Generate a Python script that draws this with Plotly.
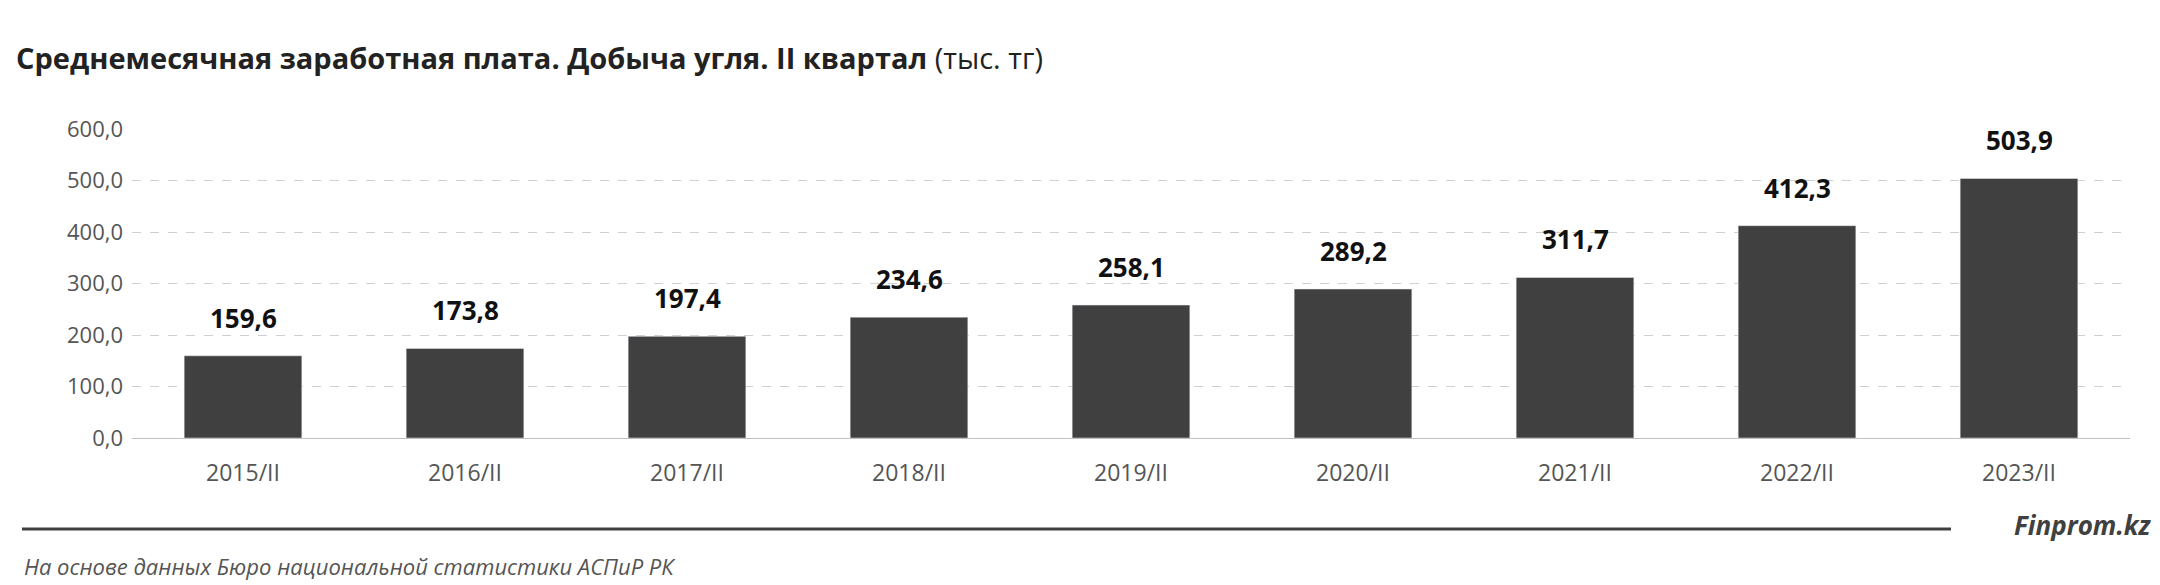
import plotly.graph_objects as go

categories = ["2015/II","2016/II","2017/II","2018/II","2019/II","2020/II","2021/II","2022/II","2023/II"]
values = [159.6,173.8,197.4,234.6,258.1,289.2,311.7,412.3,503.9]
tick_vals = [0,100,200,300,400,500,600]
tick_text = [f"{v:.1f}".replace(".", ",") for v in tick_vals]
labels = [f"{v:.1f}".replace(".", ",") for v in values]

W, H = 2160, 585
font = "Open Sans"
fig = go.Figure(go.Bar(
    x=categories, y=values, marker_color="#404040", width=0.53,
))
ann = [dict(x=c, y=v, text=f"<b>{t}</b>", showarrow=False, yanchor="bottom", yshift=18,
            font=dict(family=font, size=26, color="#111111"))
       for c, v, t in zip(categories, values, labels)]
ann += [
    dict(xref="paper", yref="paper", x=-118/1998, y=1 + (121-50)/309, xanchor="left", yanchor="middle",
         showarrow=False, align="left",
         text="<b>Среднемесячная заработная плата. Добыча угля. II квартал</b> (тыс. тг)",
         font=dict(family=font, size=29, color="#222222")),
    dict(xref="paper", yref="paper", x=1 + 24/1998, y=-(517-430)/309, xanchor="right", yanchor="middle",
         showarrow=False, text="<b><i>Finprom.kz</i></b>",
         font=dict(family=font, size=26, color="#404040")),
    dict(xref="paper", yref="paper", x=-110/1998, y=-(558-430)/309, xanchor="left", yanchor="middle",
         showarrow=False, text="<i>На основе данных Бюро национальной статистики АСПиР РК</i>",
         font=dict(family=font, size=22, color="#555555")),
]
fig.update_layout(
    width=W, height=H, plot_bgcolor="white", paper_bgcolor="white",
    margin=dict(l=124, r=38, t=121, b=155), showlegend=False,
    xaxis=dict(tickfont=dict(family=font, size=23, color="#555555"), showline=True,
               linecolor="#bfbfbf", ticks="", ticklabelstandoff=14),
    yaxis=dict(range=[0, 600], tickvals=tick_vals, ticktext=tick_text,
               tickfont=dict(family=font, size=22, color="#555555"),
               gridcolor="#d0d0d0", griddash="dash", zeroline=False, ticklabelstandoff=8),
    annotations=ann,
    shapes=[dict(type="line", xref="paper", yref="paper", x0=-110/1998, x1=(1943-124)/1998,
                 y0=-(521-430)/309, y1=-(521-430)/309, line=dict(color="#404040", width=3))],
)
fig.write_html("out.html")
